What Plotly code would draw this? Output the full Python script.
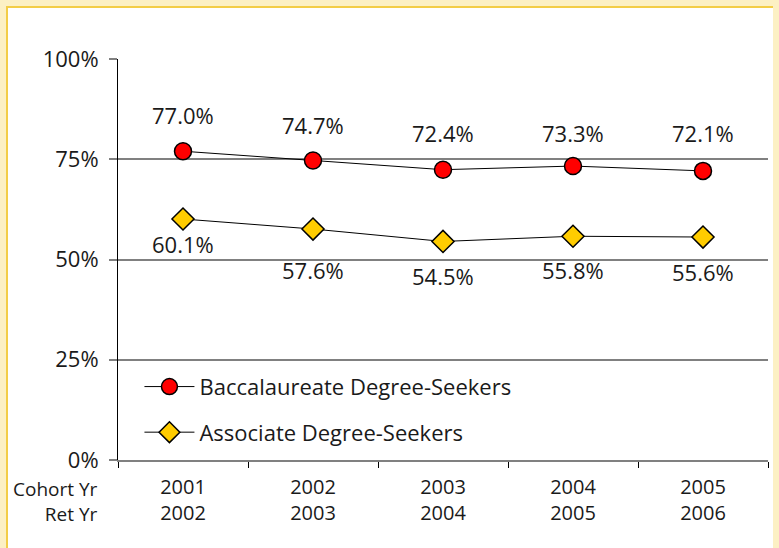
import plotly.graph_objects as go

cohort_yr = ['2001', '2002', '2003', '2004', '2005']
ret_yr = ['2002', '2003', '2004', '2005', '2006']
bacc = [0.770, 0.747, 0.724, 0.733, 0.721]
assoc = [0.601, 0.576, 0.545, 0.558, 0.556]

# label offsets (px) as placed in the original
bacc_shift = [36, 35, 37, 33, 38]
assoc_shift = [-25, -41, -35, -34, -35]

cats = [f'{c}<br>{r}' for c, r in zip(cohort_yr, ret_yr)]
FONT = 'Open Sans'
TXT = '#1a1a1a'

fig = go.Figure()
fig.add_trace(go.Scatter(
    x=cats, y=bacc, mode='lines+markers', name='Baccalaureate Degree-Seekers',
    legendgroup='a',
    line=dict(color='black', width=1),
    marker=dict(symbol='circle', size=17, color='#ff0000', line=dict(color='black', width=1.5)),
))
fig.add_trace(go.Scatter(
    x=cats, y=assoc, mode='lines+markers', name='Associate Degree-Seekers',
    legendgroup='b',
    line=dict(color='black', width=1),
    marker=dict(symbol='diamond', size=17, color='#ffcc00', line=dict(color='black', width=1.5)),
))

for i, c in enumerate(cats):
    fig.add_annotation(x=c, y=bacc[i], text=f'{bacc[i]*100:.1f}%', showarrow=False,
                       yshift=bacc_shift[i], font=dict(size=22, color=TXT, family=FONT))
    fig.add_annotation(x=c, y=assoc[i], text=f'{assoc[i]*100:.1f}%', showarrow=False,
                       yshift=assoc_shift[i], font=dict(size=22, color=TXT, family=FONT))

fig.add_annotation(xref='paper', yref='paper', x=0, y=0, xanchor='right', yanchor='top',
                   xshift=-18, yshift=-14, align='right', showarrow=False,
                   text='Cohort Yr<br>Ret Yr', font=dict(size=19, color=TXT, family=FONT))

fig.update_layout(
    width=771, height=540,
    margin=dict(l=110, r=11, t=51, b=88),
    paper_bgcolor='white',
    plot_bgcolor='white',
    font=dict(family=FONT, size=22, color=TXT),
    showlegend=True,
    legend=dict(x=0.033, y=0.235, xanchor='left', yanchor='top', bgcolor='rgba(0,0,0,0)',
                traceorder='grouped', tracegroupgap=14, font=dict(size=22, color=TXT),
                itemwidth=50),
    xaxis=dict(
        range=[-0.5, 4.5],
        showgrid=False, showline=True, linecolor='#808080', linewidth=2,
        ticks='outside', tickson='boundaries', ticklen=6, tickcolor='black', tickwidth=1,
        ticklabelstandoff=8,
        tickfont=dict(size=20, color=TXT), fixedrange=True,
    ),
    yaxis=dict(
        range=[0, 1], dtick=0.25, tickformat='.0%',
        showgrid=True, gridcolor='#808080', gridwidth=2,
        showline=True, linecolor='black', linewidth=1,
        ticks='outside', ticklen=8, tickcolor='#808080', tickwidth=2,
        ticklabelstandoff=6,
        tickfont=dict(size=22, color=TXT), zeroline=False,
    ),
)

# pale yellow page frame with a gold edge around the chart
frame_js = (
    "document.body.style.margin='6px';"
    "document.body.style.background='#fcf0c4';"
    "var d=document.getElementById('{plot_id}');"
    "d.style.borderLeft='2px solid #f3cd47';"
    "d.style.borderTop='2px solid #f3cd47';"
)

fig.write_html('out.html', post_script=frame_js)
